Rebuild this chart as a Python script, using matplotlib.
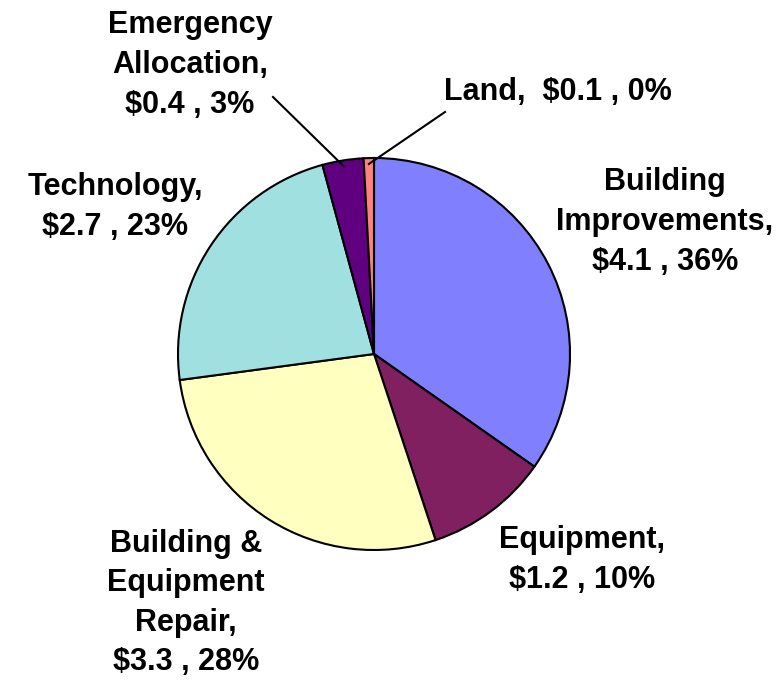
import numpy as np
import matplotlib.pyplot as plt

# Données (millions $)
categories = ["Building\nImprovements", "Equipment", "Building &\nEquipment\nRepair",
              "Technology", "Emergency\nAllocation", "Land"]
values = [4.1, 1.2, 3.3, 2.7, 0.4, 0.1]
value_labels = ["$4.1", "$1.2", "$3.3", "$2.7", "$0.4", "$0.1"]
pct_labels = ["36%", "10%", "28%", "23%", "3%", "0%"]
colors = ["#8080FF", "#802060", "#FFFFC0", "#A0E0E0", "#600080", "#FF8080"]

W, H = 782, 686
fig = plt.figure(figsize=(W / 100, H / 100), dpi=100)
ax = fig.add_axes([0, 0, 1, 1])
ax.set_xlim(0, W)
ax.set_ylim(0, H)
ax.axis("off")

cx, cy, r = 374, H - 354, 196
wedges, _ = ax.pie(values, colors=colors, startangle=90, counterclock=False,
                   center=(cx, cy), radius=r,
                   wedgeprops=dict(edgecolor="black", linewidth=1.5))
ax.set_xlim(0, W)
ax.set_ylim(0, H)

# position des étiquettes (pixels, origine en haut)
label_pos = [(665, 222), (582, 560), (186, 603), (115, 207), (190, 65), (558, 92)]
font = dict(family="Liberation Sans", fontweight="bold", fontsize=22)

for i, (cat, v, p) in enumerate(zip(categories, value_labels, pct_labels)):
    if cat == "Land":
        txt = f"{cat},  {v} , {p}"
    else:
        txt = f"{cat},\n{v} , {p}"
    x, y = label_pos[i]
    ax.text(x, H - y, txt, ha="center", va="center", linespacing=1.42, **font)

# lignes de rappel pour les petites tranches
leader_start = {4: (273, 97), 5: (445, 112)}
for i, (sx, sy) in leader_start.items():
    w = wedges[i]
    ang = np.deg2rad((w.theta1 + w.theta2) / 2)
    ex = cx + 0.97 * r * np.cos(ang)
    ey = cy + 0.97 * r * np.sin(ang)
    ax.plot([sx, ex], [H - sy, ey], color="black", linewidth=1.5)

plt.savefig("out.png", dpi=100)
